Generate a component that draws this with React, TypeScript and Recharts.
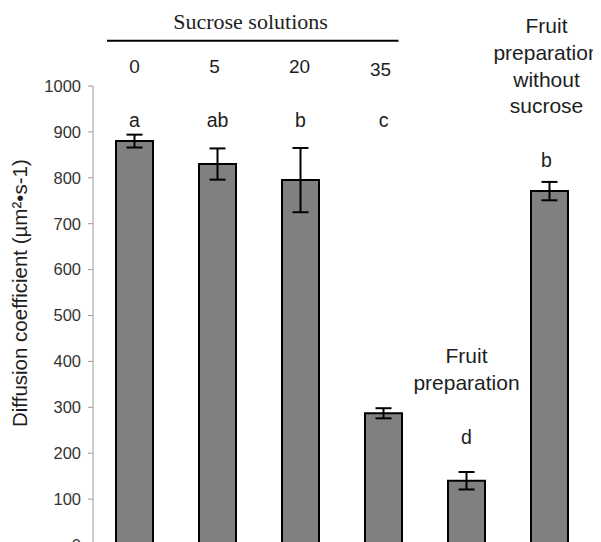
import React from 'react';
import { BarChart, Bar, XAxis, YAxis, ErrorBar, LabelList, Customized } from 'recharts';

// Diffusion coefficient (µm²·s⁻¹) per sample
const samples = ['0', '5', '20', '35', 'Fruit preparation', 'Fruit preparation without sucrose'];
const diffusion = [880, 830, 795, 287, 140, 771];
const deviation = [14, 34, 70, 11, 19, 20];
const letters = ['a', 'ab', 'b', 'c', 'd', 'b'];
const sampleLines = [['0'], ['5'], ['20'], ['35'], ['Fruit', 'preparation'], ['Fruit', 'preparation', 'without', 'sucrose']];
const yTicks = [0, 100, 200, 300, 400, 500, 600, 700, 800, 900, 1000];

const rows = samples.map((s, i) => ({
  sample: s,
  value: diffusion[i],
  err: deviation[i],
  letter: letters[i],
}));

const W = 593;
const H = 560;
const MARGIN = { top: 78, right: 10, bottom: 23, left: 0 };
const AXIS_W = 85;
const PLOT_LEFT = MARGIN.left + AXIS_W;
const BAND = (W - MARGIN.right - PLOT_LEFT) / samples.length;

const SANS = '"Liberation Sans", Arial, Helvetica, sans-serif';
const SERIF = '"Liberation Serif", "Times New Roman", serif';
const INK = '#1e1e1e';

// Baselines for the significance letters and the sample captions
const letterBaseline = [119, 119, 119, 119, 436, 158.7];
const captionBaseline = [64.7, 64.7, 64.7, 68, 355, 25.3];
const captionStep = [0, 0, 0, 0, 27, 26.7];
const captionShift = [0, -3, -1, -3, 0, -3];

function Annotation(props: any) {
  const { x, width, index, value } = props;
  if (index === undefined) return null;
  const cx = x + width / 2;
  const lines = sampleLines[index];
  return (
    <g>
      <text x={cx + (index === 5 ? -3 : 0)} y={letterBaseline[index]} textAnchor="middle"
        fontFamily={SANS} fontSize={19.5} fill={INK}>{value}</text>
      {lines.map((ln, k) => (
        <text key={k} x={cx + captionShift[index]} y={captionBaseline[index] + k * captionStep[index]}
          textAnchor="middle" fontFamily={SANS} fontSize={index < 4 ? 19 : 21} fill={INK}>{ln}</text>
      ))}
    </g>
  );
}

function SucroseHeader() {
  const x1 = PLOT_LEFT + 14;
  const x2 = PLOT_LEFT + 3 * BAND + BAND / 2 + 15;
  return (
    <g>
      <text x={242.5} y={21} textAnchor="middle" fontFamily={SERIF} fontSize={22} fill={INK}>
        Sucrose solutions
      </text>
      <line x1={x1} y1={32.7} x2={x2} y2={32.7} stroke="#000" strokeWidth={2} />
      <text transform="rotate(-90, 19, 419)" x={19} y={419} textAnchor="start"
        fontFamily={SANS} fontSize={20.5} fill={INK}>
        Diffusion coefficient (µm²•s-1)
      </text>
    </g>
  );
}

export default function App() {
  return (
    <div style={{ width: W, height: 534, overflow: 'hidden' }}>
      <BarChart width={W} height={H} data={rows} margin={MARGIN}>
        <XAxis dataKey="sample" hide />
        <YAxis
          width={AXIS_W}
          domain={[0, 1000]}
          ticks={yTicks}
          interval={0}
          stroke="#9a9a9a"
          tickSize={5}
          tickMargin={7}
          tick={{ fontSize: 16.5, fill: '#333', fontFamily: SANS }}
        />
        <Bar dataKey="value" barSize={37} fill="#808080" stroke="#000" strokeWidth={2} isAnimationActive={false}>
          <ErrorBar dataKey="err" width={8} stroke="#000" strokeWidth={2} direction="y" />
          <LabelList dataKey="letter" content={<Annotation />} />
        </Bar>
        <Customized component={<SucroseHeader />} />
      </BarChart>
    </div>
  );
}
